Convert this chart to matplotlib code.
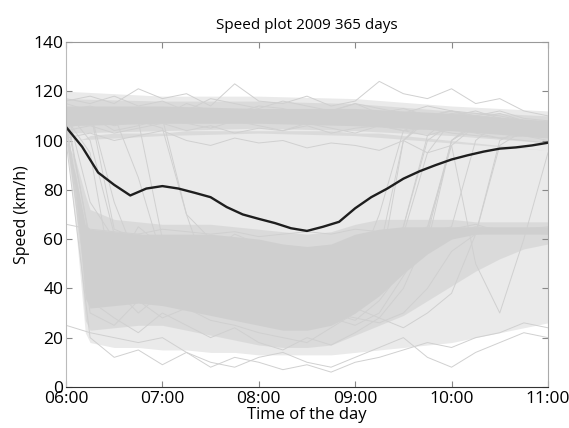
#!/usr/bin/env python3

import matplotlib.pyplot as plt
import numpy as np

plt.rcParams['font.family'] = ['Open Sans', 'DejaVu Sans']

# mean speed, every 10 minutes from 06:00 to 11:00 (km/h)
MEAN_HOURS = np.arange(6, 11.001, 1 / 6)
MEAN_SPEED = [105.5, 97.5, 87, 82, 77.7, 80.5, 81.5, 80.5, 78.8, 77, 73,
              70, 68.2, 66.5, 64.4, 63.3, 65, 67, 72.5, 77, 80.5, 84.5,
              87.5, 90, 92.3, 94, 95.5, 96.7, 97.2, 98, 99.1]

# envelopes of the dense free-flow cloud
FREE_HOURS = [6, 7, 8, 9, 10, 11]
FREE_LO = [100, 102, 103, 102, 99, 96]
FREE_HI = [120, 118, 118, 117, 114, 112]
FREE_MID_LO = [103, 104, 105, 104, 102, 99]
FREE_MID_HI = [117, 116, 116, 115, 112, 110]
FREE_CORE_LO = [106, 107, 107, 106, 104, 101]
FREE_CORE_HI = [114, 114, 113, 113, 111, 108]

# envelopes of the congested cloud (outer haze, middle, core)
CONG_HOURS = [6, 6.1, 6.2, 6.25, 6.5, 6.75, 7, 7.25, 7.5, 7.75, 8, 8.25,
              8.5, 8.75, 9, 9.25, 9.5, 9.75, 10, 10.25, 10.5, 10.75, 11]
HAZE_LO = [100, 65, 22, 18, 16, 16, 15, 15, 14, 14, 13, 13, 13, 13, 14, 15,
           16, 17, 18, 20, 22, 24, 26]
HAZE_HI = [100, 100, 101, 102, 103, 103, 103, 104, 104, 104, 104, 104, 104,
           104, 103, 103, 102, 101, 100, 99, 98, 97, 96]
MID_LO = [100, 72, 27, 23, 24, 25, 25, 23, 21, 19, 17, 16, 16, 17, 21, 25,
          29, 35, 41, 47, 52, 56, 58]
MID_HI = [100, 92, 78, 72, 68, 67, 66, 66, 66, 65, 64, 63, 62, 63, 66, 68,
          68, 68, 68, 67, 67, 67, 67]
CORE_LO = [100, 80, 36, 32, 33, 34, 33, 31, 29, 27, 25, 23, 23, 25, 30, 37,
           46, 54, 60, 62, 62, 62, 62]
CORE_HI = [100, 86, 66, 64, 63, 62, 62, 62, 62, 61, 60, 58, 57, 58, 62, 64,
           65, 65, 65, 65, 65, 65, 65]

# a few individual days, every 15 minutes from 06:00 to 11:00 (km/h)
DAY_HOURS = np.arange(6, 11.001, 0.25)
DAYS = [
    [112, 114, 111, 113, 110, 115, 112, 111, 114, 113, 110, 112, 115, 111, 113, 110, 112, 109, 111, 108, 107],
    [116, 118, 115, 121, 117, 119, 114, 123, 116, 115, 118, 114, 116, 124, 119, 117, 121, 115, 117, 112, 110],
    [104, 106, 103, 105, 107, 104, 106, 103, 105, 104, 106, 103, 105, 106, 104, 105, 103, 102, 101, 100, 99],
    [108, 45, 38, 42, 35, 40, 33, 37, 30, 28, 26, 32, 45, 70, 104, 108, 110, 109, 107, 106, 104],
    [110, 60, 52, 48, 55, 50, 47, 44, 40, 36, 34, 38, 42, 50, 62, 95, 108, 109, 108, 106, 105],
    [106, 30, 25, 35, 28, 32, 27, 25, 22, 20, 18, 24, 30, 48, 65, 100, 107, 106, 108, 105, 103],
    [100, 20, 12, 15, 9, 14, 8, 12, 10, 7, 9, 6, 10, 12, 15, 18, 16, 20, 22, 26, 24],
    [112, 100, 62, 55, 58, 60, 52, 50, 45, 42, 38, 35, 40, 55, 100, 108, 111, 110, 109, 107, 106],
    [111, 113, 110, 108, 60, 50, 45, 40, 35, 30, 28, 32, 38, 52, 60, 65, 98, 106, 108, 106, 104],
    [66, 64, 63, 62, 64, 63, 62, 63, 61, 62, 63, 62, 64, 63, 62, 64, 63, 62, 63, 64, 63],
    [109, 95, 40, 30, 38, 45, 50, 55, 48, 42, 36, 30, 27, 35, 48, 58, 100, 106, 107, 105, 103],
    [113, 58, 48, 65, 57, 52, 60, 45, 50, 55, 47, 40, 35, 45, 100, 110, 112, 111, 110, 108, 106],
    [25, 22, 20, 18, 20, 14, 10, 8, 12, 14, 10, 8, 12, 16, 20, 12, 8, 14, 18, 22, 20],
    [107, 109, 106, 108, 105, 70, 42, 38, 45, 40, 35, 30, 28, 26, 30, 40, 55, 62, 100, 105, 104],
    [115, 112, 75, 50, 45, 40, 55, 60, 58, 50, 45, 40, 35, 50, 65, 102, 110, 112, 109, 107, 105],
    [108, 110, 104, 106, 109, 107, 105, 108, 106, 104, 107, 105, 103, 106, 104, 102, 105, 103, 101, 102, 100],
    [110, 112, 64, 60, 45, 50, 38, 42, 35, 40, 30, 28, 25, 30, 45, 60, 64, 66, 63, 64, 65],
    [105, 108, 110, 85, 52, 45, 40, 48, 42, 38, 35, 40, 38, 42, 55, 62, 65, 100, 108, 106, 104],
    [114, 75, 60, 62, 58, 55, 50, 58, 52, 48, 44, 50, 55, 62, 64, 63, 62, 65, 64, 63, 62],
    [109, 35, 28, 22, 30, 25, 20, 24, 18, 15, 20, 17, 22, 28, 40, 62, 100, 107, 109, 106, 104],
    [111, 110, 108, 112, 109, 70, 60, 55, 50, 45, 40, 35, 32, 40, 50, 64, 100, 108, 107, 106, 104],
    [101, 103, 100, 102, 104, 100, 98, 101, 99, 100, 97, 99, 98, 96, 100, 95, 98, 50, 30, 60, 95],
    [117, 115, 118, 114, 116, 112, 117, 115, 113, 116, 114, 112, 115, 113, 111, 114, 112, 110, 112, 109, 108],
    [106, 50, 44, 38, 42, 48, 55, 62, 58, 52, 45, 38, 32, 28, 24, 30, 38, 62, 98, 104, 102],
]

TICK_HOURS = [6, 7, 8, 9, 10, 11]
TICK_LABELS = ["06:00", "07:00", "08:00", "09:00", "10:00", "11:00"]

fig = plt.figure(figsize=(5.69, 4.28), dpi=100)
ax = fig.add_axes([0.116, 0.096, 0.847, 0.806])

# clouds of the 365 daily curves, stacked translucent layers
cloud = dict(color="#b4b4b4", alpha=0.28, lw=0)
ax.fill_between(CONG_HOURS, HAZE_LO, HAZE_HI, **cloud)
ax.fill_between(CONG_HOURS, MID_LO, MID_HI, **cloud)
ax.fill_between(CONG_HOURS, CORE_LO, CORE_HI, **cloud)
ax.fill_between(FREE_HOURS, FREE_LO, FREE_HI, **cloud)
ax.fill_between(FREE_HOURS, FREE_MID_LO, FREE_MID_HI, **cloud)
ax.fill_between(FREE_HOURS, FREE_CORE_LO, FREE_CORE_HI, **cloud)

for day in DAYS:
    ax.plot(DAY_HOURS, day, color="#d0d0d0", lw=0.7)

ax.plot(MEAN_HOURS, MEAN_SPEED, color="#1e1e1e", lw=1.7)

ax.set_xlim(6, 11)
ax.set_ylim(0, 140)
ax.set_xticks(TICK_HOURS)
ax.set_xticklabels(TICK_LABELS)
ax.set_yticks(range(0, 141, 20))
ax.tick_params(direction="in", top=True, right=True, labelsize=12.5,
               length=4, color="#888888", pad=2)
ax.tick_params(axis="x", pad=3)
ax.spines["bottom"].set_color("#333333")
ax.spines["left"].set_color("#bbbbbb")
ax.spines["top"].set_color("#999999")
ax.spines["right"].set_color("#aaaaaa")

ax.set_title("Speed plot 2009 365 days", fontsize=11, pad=9)
ax.set_xlabel("Time of the day", fontsize=12, labelpad=0)
ax.set_ylabel("Speed (km/h)", fontsize=11.5, labelpad=2)

fig.savefig("out.png", dpi=100)
